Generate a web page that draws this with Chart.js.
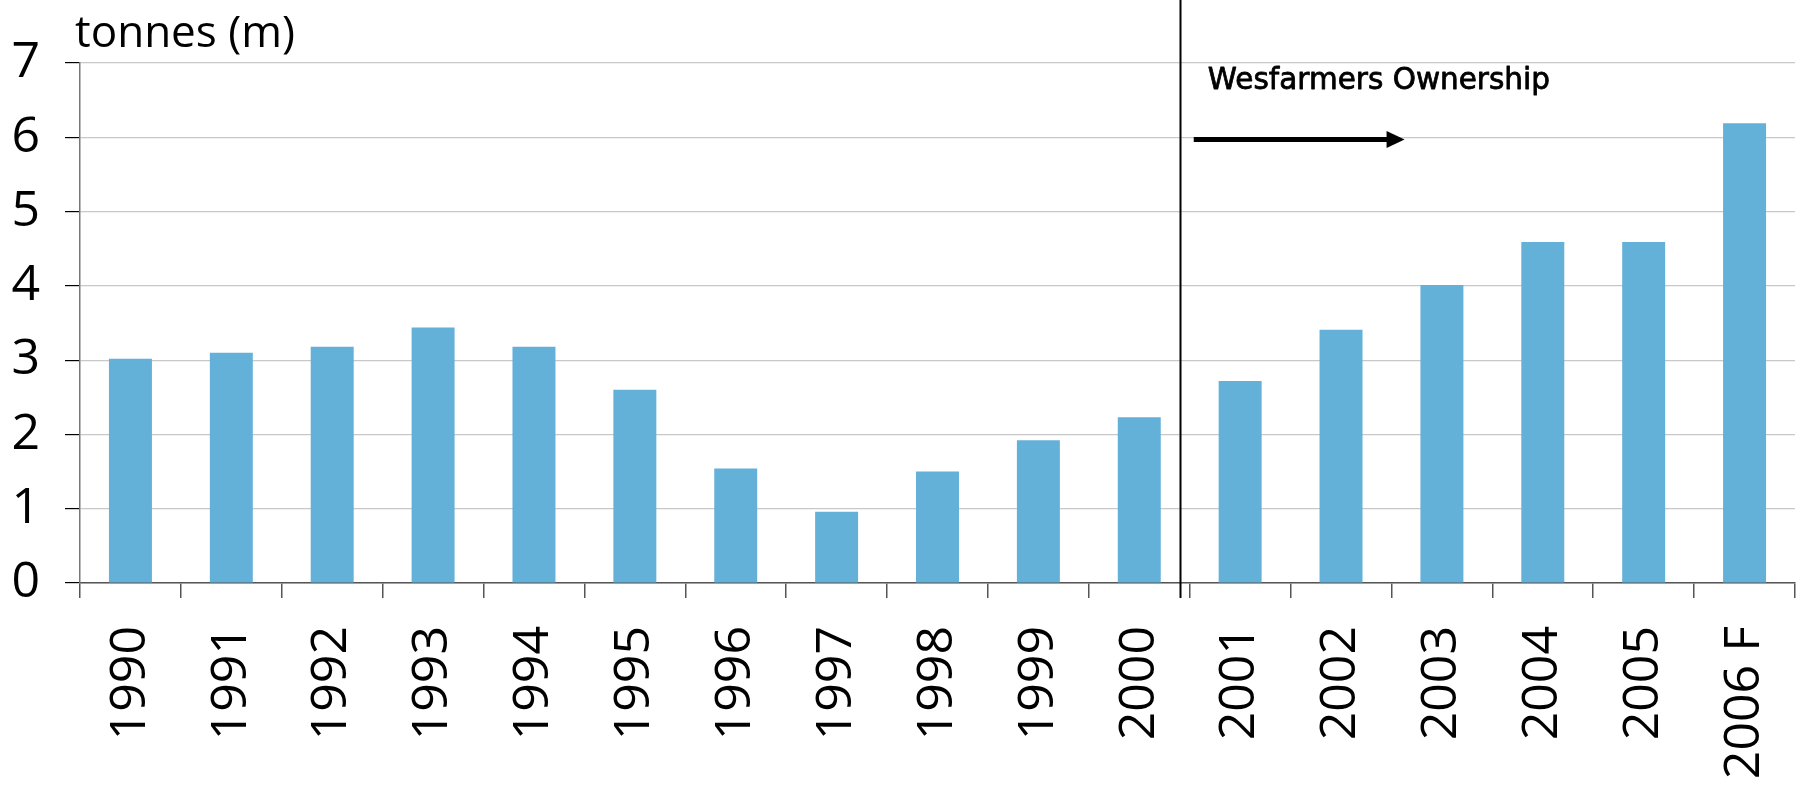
<!DOCTYPE html>
<html>
<head>
<meta charset="utf-8">
<script src="https://cdn.jsdelivr.net/npm/chart.js@4/dist/chart.umd.min.js"></script>
<style>
  body { margin: 0; background: #fff; }
  #wrap { width: 1796px; height: 786px; position: relative; }
</style>
</head>
<body>
<div id="wrap"><canvas id="chart"></canvas></div>
<script>
const years = ["1990", "1991", "1992", "1993", "1994", "1995", "1996", "1997", "1998",
  "1999", "2000", "2001", "2002", "2003", "2004", "2005", "2006 F"];
const tonnes = [3.02, 3.1, 3.18, 3.44, 3.18, 2.6, 1.54, 0.96, 1.5, 1.92, 2.23, 2.72, 3.41,
  4.01, 4.59, 4.59, 6.19];
const yMax = 7;
const unitLabel = "tonnes (m)";
const ownershipLabel = "Wesfarmers Ownership";
// where the divider and the arrow sit, in category units
const dividerAt = 10.4;
const arrowFrom = 10.54;
const arrowTo = 12.63;
const arrowLevel = 5.97;
const labelAt = 10.68;
const labelLevel = 6.65;

const overlay = {
  id: "overlay",
  afterDraw(chart) {
    const { ctx, chartArea } = chart;
    const x = chart.scales.x;
    const y = chart.scales.y;
    ctx.save();
    ctx.fillStyle = "#000";
    ctx.textAlign = "left";
    ctx.textBaseline = "alphabetic";
    ctx.font = '44px "Open Sans"';
    ctx.fillText(unitLabel, chartArea.left - 5, chartArea.top - 16);

    // divider line
    const dx = Math.round(x.getPixelForValue(dividerAt)) + 0.5;
    ctx.strokeStyle = "#000";
    ctx.lineWidth = 2;
    ctx.beginPath();
    ctx.moveTo(dx, 0);
    ctx.lineTo(dx, chartArea.bottom + 15);
    ctx.stroke();

    // arrow
    const ax1 = x.getPixelForValue(arrowFrom);
    const ax2 = x.getPixelForValue(arrowTo);
    const ay = y.getPixelForValue(arrowLevel);
    ctx.lineWidth = 5;
    ctx.beginPath();
    ctx.moveTo(ax1, ay);
    ctx.lineTo(ax2 - 16, ay);
    ctx.stroke();
    ctx.beginPath();
    ctx.moveTo(ax2 - 18, ay - 8.5);
    ctx.lineTo(ax2, ay);
    ctx.lineTo(ax2 - 18, ay + 8.5);
    ctx.closePath();
    ctx.fill();

    // label is a little heavier than the regular face
    ctx.font = '29.5px "DejaVu Sans"';
    const lx = x.getPixelForValue(labelAt);
    const ly = y.getPixelForValue(labelLevel);
    ctx.lineWidth = 0.8;
    ctx.lineJoin = "round";
    ctx.strokeText(ownershipLabel, lx, ly);
    ctx.fillText(ownershipLabel, lx, ly);
    ctx.restore();
  }
};

new Chart(document.getElementById("chart"), {
  type: "bar",
  data: {
    labels: years,
    datasets: [{
      data: tonnes,
      backgroundColor: "#63b1d9",
      borderWidth: 0,
      categoryPercentage: 1,
      barPercentage: 0.426
    }]
  },
  options: {
    responsive: true,
    maintainAspectRatio: false,
    animation: false,
    layout: { padding: { top: 63, right: 1, left: 0, bottom: 0 } },
    plugins: {
      legend: { display: false },
      tooltip: { enabled: false }
    },
    scales: {
      x: {
        afterFit(scale) {
          scale.height = 203;
          scale.paddingLeft = 0;
          scale.paddingRight = 0;
        },
        grid: {
          drawOnChartArea: false,
          tickLength: 15,
          tickColor: "#555",
          lineWidth: 1.5
        },
        border: { color: "#555", width: 1.5 },
        ticks: {
          autoSkip: false,
          minRotation: 90,
          maxRotation: 90,
          padding: 28,
          color: "#000",
          font: { family: "Open Sans", size: 50 }
        }
      },
      y: {
        min: 0,
        max: yMax,
        afterFit(scale) { scale.width = 80; },
        grid: {
          color: "#c8c8c8",
          lineWidth: 1.2,
          tickLength: 15,
          tickColor: "#000"
        },
        border: { color: "#777", width: 1.5 },
        ticks: {
          stepSize: 1,
          padding: 25,
          color: "#000",
          font: { family: "Open Sans", size: 50 }
        }
      }
    }
  },
  plugins: [overlay]
});
</script>
</body>
</html>
